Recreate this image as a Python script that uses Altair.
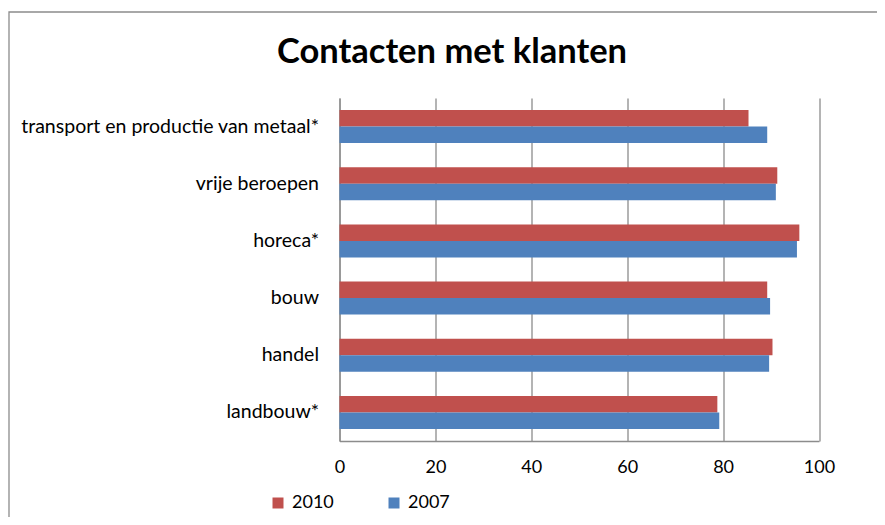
import altair as alt
import pandas as pd

categories = ["transport en productie van metaal*", "vrije beroepen", "horeca*", "bouw", "handel", "landbouw*"]
values_2010 = [85.3, 91.3, 95.9, 89.2, 90.3, 78.8]
values_2007 = [89.2, 91.0, 95.4, 89.8, 89.6, 79.2]
years = ["2010", "2007"]
colors = ["#C0504D", "#4F81BD"]
x_ticks = [0, 20, 40, 60, 80, 100]
title_text = "Contacten met klanten"

rows = []
for c, a, b in zip(categories, values_2010, values_2007):
    rows.append({"sector": c, "jaar": "2010", "waarde": a})
    rows.append({"sector": c, "jaar": "2007", "waarde": b})
df = pd.DataFrame(rows)

FONT = "Lato"
GRID = "#8C8C8C"

bars = alt.Chart(df).mark_bar().encode(
    y=alt.Y("sector:N", sort=categories, title=None,
            scale=alt.Scale(paddingInner=0.423, paddingOuter=0.2115),
            axis=alt.Axis(labelFont=FONT, labelFontSize=19.5, labelColor="black",
                          labelPadding=21, ticks=False, domainColor=GRID,
                          domainWidth=1.3, labelLimit=400)),
    yOffset=alt.YOffset("jaar:N", sort=years, scale=alt.Scale(paddingInner=0, paddingOuter=0)),
    x=alt.X("waarde:Q", title=None,
            scale=alt.Scale(domain=[0, 100], nice=False),
            axis=alt.Axis(values=x_ticks, grid=True, gridColor=GRID, gridWidth=1.3,
                          ticks=False, domainColor=GRID, domainWidth=1.3,
                          labelFont=FONT, labelFontSize=18, labelColor="black",
                          labelPadding=17, labelFlush=False)),
    color=alt.Color("jaar:N", sort=years,
                    scale=alt.Scale(domain=years, range=colors),
                    legend=alt.Legend(title=None, orient="none", direction="horizontal",
                                      legendX=-70.5, legendY=396, symbolType="square",
                                      symbolSize=121, symbolStrokeWidth=0,
                                      labelFont=FONT, labelFontSize=18, labelColor="black",
                                      labelOffset=5, columnPadding=51, padding=0)),
)

frame = alt.Chart(pd.DataFrame({"f": [0]})).mark_rect(
    fill=None, stroke="#8C8C8C", strokeWidth=1.3
).encode(
    x=alt.value(-330.5), x2=alt.value(700),
    y=alt.value(-86), y2=alt.value(600),
)

title = alt.Chart(pd.DataFrame({"t": [title_text]})).mark_text(
    font=FONT, fontSize=34.5, fontWeight="bold", color="black",
    align="center", baseline="alphabetic"
).encode(
    text="t:N", x=alt.value(112.5), y=alt.value(-34.7),
)

chart = alt.layer(frame, bars, title).properties(
    width=479.5, height=343,
    padding={"left": 331.5, "top": 90, "right": 58, "bottom": 76},
    autosize=alt.AutoSizeParams(type="none"),
).configure_view(stroke=None)

chart.save("out.html", embed_options={"renderer": "svg", "actions": False})
